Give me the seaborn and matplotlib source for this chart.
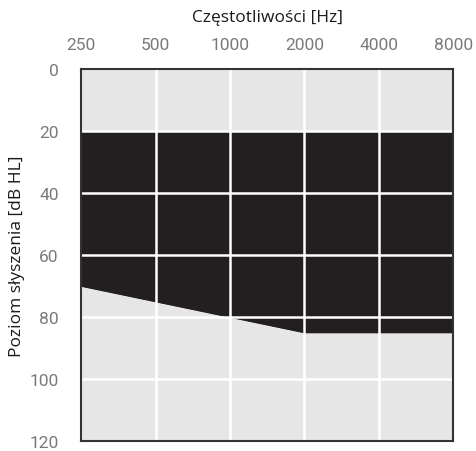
import numpy as np
import pandas as pd
import seaborn as sns
import matplotlib.pyplot as plt

# Dane audiogramu
czestotliwosci = [250, 500, 1000, 2000, 4000, 8000]
etykiety_x = ["250", "500", "1000", "2000", "4000", "8000"]
prog_gorny = [20, 20, 20, 20, 20, 20]
prog_dolny = [70, 75, 80, 85, 85, 85]
poziomy_y = [0, 20, 40, 60, 80, 100, 120]

sns.set_style("white")
plt.rcParams['font.family'] = ['Open Sans', 'DejaVu Sans']

fig = plt.figure(figsize=(4.77, 4.52), dpi=100)
ax = fig.add_axes([0.170, 0.022, 0.780, 0.823])

df = pd.DataFrame({"hz": czestotliwosci, "gora": prog_gorny, "dol": prog_dolny})

ax.set_facecolor("#e6e6e7")
ax.fill_between(df["hz"], df["gora"], df["dol"], color="#231f20", lw=0, zorder=1)
sns.lineplot(data=df, x="hz", y="dol", color="#231f20", lw=1, ax=ax, zorder=1)

ax.set_xscale("log", base=2)
ax.set_xlim(250, 8000)
ax.set_ylim(120, 0)

ax.set_xticks(czestotliwosci)
ax.set_xticklabels(etykiety_x)
ax.set_yticks(poziomy_y)
ax.minorticks_off()

# siatka biała nad wypełnieniem
for x in czestotliwosci[1:-1]:
    ax.axvline(x, color="white", lw=1.8, zorder=2)
for y in poziomy_y[1:-1]:
    ax.axhline(y, color="white", lw=1.8, zorder=2)

ax.xaxis.tick_top()
ax.xaxis.set_label_position("top")
ax.tick_params(axis="x", length=0, pad=12, labelsize=12.5, labelcolor="#7a7a7a")
ax.tick_params(axis="y", length=0, pad=16, labelsize=12.5, labelcolor="#7a7a7a")
for lab in ax.get_xticklabels() + ax.get_yticklabels():
    lab.set_family(["Roboto", "DejaVu Sans"])

ax.set_xlabel("Częstotliwości [Hz]", fontsize=12.5, color="#1a1a1a", labelpad=12)
ax.set_ylabel("Poziom słyszenia [dB HL]", fontsize=12.5, color="#1a1a1a", labelpad=3)

for s in ax.spines.values():
    s.set_visible(True)
    s.set_color("#333333")
    s.set_linewidth(1.5)
    s.set_zorder(3)

plt.savefig("out.png", dpi=100)
